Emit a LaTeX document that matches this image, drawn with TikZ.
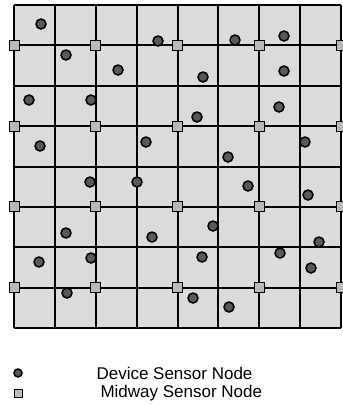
\documentclass[tikz,border=0pt]{standalone}
\usepackage{fontspec}
\setmainfont{Liberation Sans}
\usetikzlibrary{positioning}

\begin{document}
\begin{tikzpicture}[x=1pt, y=-1pt,
  cell/.style={draw=black, line width=2pt},
  device/.style={circle, draw=black, line width=1.5pt, fill=black!65,
    minimum size=10pt, inner sep=0pt},
  midway/.style={rectangle, draw=black, line width=1pt, fill=gray!55,
    minimum size=10pt, inner sep=0pt},
  legend/.style={font=\fontsize{17}{20}\selectfont, anchor=west}
]
\useasboundingbox (0,0) rectangle (343,405);

% Sensor field: 8 x 8 cells
\fill[gray!28] (14,5) rectangle (341,328);
\foreach \i in {0,...,8} {
  \draw[cell] ({14+40.875*\i},5) -- ({14+40.875*\i},328);
  \draw[cell] (14,{5+40.375*\i}) -- (341,{5+40.375*\i});
}

% Midway sensor nodes on every second crossing
\foreach \i in {0,...,4} {
  \foreach \j in {0,...,3} {
    \node[midway] (mid\i\j) at ({14+81.75*\i},{45.4+80.75*\j}) {};
  }
}

% Device sensor nodes
\foreach \x/\y [count=\n] in {41/24, 158/41, 235/40, 284/36, 66/55, 118/70,
    284/71, 203/77, 29/100, 91/100, 279/107, 197/117, 40/146, 146/142,
    305/142, 228/157, 90/182, 137/182, 248/186, 308/195, 66/233, 152/237,
    213/226, 319/242, 39/262, 91/258, 202/257, 280/253, 311/268, 67/293,
    193/298, 229/307} {
  \node[device] (dev\n) at (\x,\y) {};
}

% Legend
\node[device, minimum size=8pt] (keydev) at (18,373) {};
\node[midway, minimum size=8pt] (keymid) at (18,393) {};
\node[legend] (txtdev) at (93,373) {Device Sensor Node};
\node[legend] (txtmid) at (97,393) {Midway Sensor Node};

\end{tikzpicture}
\end{document}
